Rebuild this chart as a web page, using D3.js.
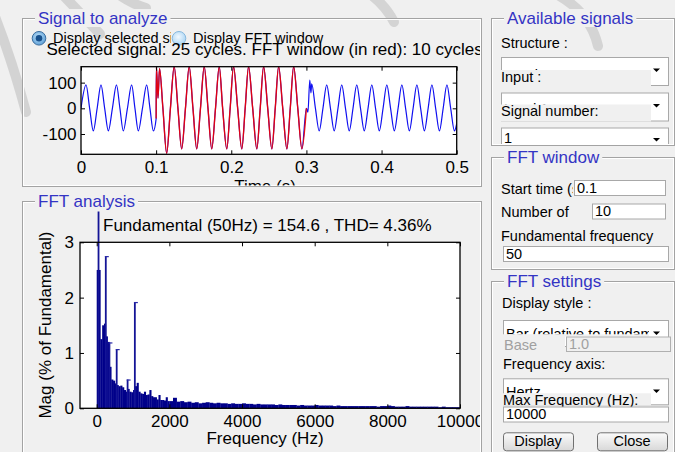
<!DOCTYPE html>
<html><head><meta charset="utf-8">
<script src="https://cdn.jsdelivr.net/npm/d3@7"></script>
<style>
html,body{margin:0;padding:0;background:#f0f0f0;}
svg{display:block;font-family:"Liberation Sans",Arial,Helvetica,sans-serif;}
</style></head><body>
<svg id="c" width="675" height="452"></svg>
<script>
// ---------------- DATA ----------------
const timeTicks = [0, 0.1, 0.2, 0.3, 0.4, 0.5];
const sigTicks = [-100, 0, 100];
const sigT = [0,0.0067,0.0115,0.0164,0.0215,0.0266,0.0315,0.0364,0.0418,0.0472,0.0518,0.0563,0.0618,0.0674,0.0718,0.0763,0.0818,0.0874,0.0918,0.0963,
  0.1,0.1003,0.1025,0.1045,0.109,0.114,0.119,0.124,0.129,0.134,0.139,0.144,0.149,0.154,0.159,0.164,0.169,0.174,0.179,0.184,0.1885,0.194,0.1985,0.203,0.2085,0.214,0.2185,0.223,0.2285,0.234,0.2385,0.243,0.2485,0.254,0.2585,0.263,0.2685,0.274,0.2785,0.283,0.2885,0.294,0.3,
  0.302,0.3045,0.306,0.307,0.312,0.317,0.322,0.327,0.332,0.337,0.342,0.347,0.352,0.357,0.362,0.367,0.372,0.377,0.382,0.387,0.392,0.397,0.402,0.407,0.412,0.417,0.422,0.427,0.432,0.437,0.442,0.447,0.452,0.457,0.462,0.467,0.472,0.477,0.482,0.487,0.492,0.497,0.5];
const sigV = [0,91,0,-88,0,91,0,-88,0,91,0,-88,0,91,0,-88,0,91,0,-88,
  -40,160,40,155,0,-175,0,162,0,-158,0,162,0,-158,0,162,0,-158,0,162,0,-158,0,162,0,-158,0,162,0,-158,0,162,0,-158,0,162,0,-158,0,162,0,-158,0,
  -15,110,60,95,0,-88,0,91,0,-88,0,91,0,-88,0,91,0,-88,0,91,0,-88,0,91,0,-88,0,91,0,-88,0,91,0,-88,0,91,0,-88,0,91,0,-88,-60];
const windowStart = 0.1, windowEnd = 0.3;

const freqTicks = [0, 2000, 4000, 6000, 8000, 10000];
const magTicks = [0, 1, 2, 3];
const fftFreq = [0,50,100,150,200,250,300,350,400,450,500,550,600,650,700,750,800,850,900,950,1000,1050,1100,1150,1200,1250,1300,1350,1400,1450,1500,1550,1600,1650,1700,1750,1800,1850,1900,1950,
  2000,2100,2200,2300,2400,2500,2600,2700,2800,2900,3000,3100,3200,3300,3400,3500,3600,3700,3800,3900,4000,4100,4200,4300,4400,4500,4600,4700,4800,4900,
  5000,5100,5200,5300,5400,5500,5600,5700,5800,5900,6000,6100,6200,6300,6400,6500,6600,6700,6800,6900,7000,7100,7200,7300,7400,7500,7600,7700,7800,7900,
  8000,8100,8200,8300,8400,8500,8600,8700,8800,8900,9000,9100,9200,9300,9400,9500,9600,9700,9800,9900];
const fftMag = [2.5,2.5,1.25,1.5,1.53,1.3,1.2,0.75,0.52,0.5,0.45,0.42,0.4,0.41,0.38,0.33,0.3,0.35,0.3,0.29,0.33,0.4,0.46,0.3,0.27,0.26,0.3,0.24,0.25,0.33,0.22,0.2,0.2,0.16,0.24,0.15,0.15,0.14,0.2,0.13,
  0.13,0.19,0.12,0.13,0.11,0.12,0.1,0.11,0.09,0.1,0.11,0.1,0.09,0.1,0.09,0.09,0.08,0.09,0.08,0.08,0.09,0.08,0.08,0.07,0.08,0.07,0.07,0.07,0.07,0.06,
  0.07,0.06,0.06,0.06,0.06,0.05,0.06,0.05,0.05,0.05,0.06,0.05,0.05,0.05,0.05,0.04,0.05,0.04,0.04,0.04,0.04,0.04,0.04,0.04,0.04,0.04,0.04,0.03,0.04,0.04,
  0.05,0.04,0.03,0.03,0.03,0.04,0.03,0.03,0.03,0.03,0.03,0.03,0.03,0.03,0.02,0.03,0.02,0.02,0.02,0.02];
const spikeFreq = [50, 250, 350, 550, 850, 1050];
const spikeMag = [100, 2.75, 1.19, 1.07, 0.52, 1.92];

// ---------------- DRAW ----------------
const svg = d3.select('#c');
const defs = svg.append('defs');
const BLUE_T = '#3434c4';
const FONT_AX = 17, FONT_UI = 14.5;
let clipN = 0;
function clip(x, y, w, h){ const id = 'cp' + (clipN++); defs.append('clipPath').attr('id', id).append('rect').attr('x', x).attr('y', y).attr('width', w).attr('height', h); return `url(#${id})`; }

// gradients
const g1 = defs.append('radialGradient').attr('id','radSel').attr('cx','45%').attr('cy','40%').attr('r','60%');
g1.append('stop').attr('offset','0%').attr('stop-color','#bfe3fb');
g1.append('stop').attr('offset','100%').attr('stop-color','#5e9fd6');
const g2 = defs.append('radialGradient').attr('id','radUn').attr('cx','45%').attr('cy','40%').attr('r','60%');
g2.append('stop').attr('offset','0%').attr('stop-color','#f2f9ff');
g2.append('stop').attr('offset','100%').attr('stop-color','#a9d4f3');
const g3 = defs.append('linearGradient').attr('id','btn').attr('x1',0).attr('x2',0).attr('y1',0).attr('y2',1);
g3.append('stop').attr('offset','0%').attr('stop-color','#fbfbfb');
g3.append('stop').attr('offset','100%').attr('stop-color','#d8d8d8');

// background
svg.append('rect').attr('width',675).attr('height',452).attr('fill','#f0f0f0');

// faint watermark strokes
const wm = svg.append('g').attr('fill','none').attr('stroke','#cdcdcd').attr('stroke-width',10).attr('stroke-linecap','round').attr('opacity',0.8);
wm.append('path').attr('d','M-6,14 Q12,60 26,112');
wm.append('path').attr('d','M62,-6 L100,34');
wm.append('path').attr('d','M118,-6 Q132,4 146,8');
wm.append('path').attr('d','M370,-6 Q386,6 394,22');
wm.append('path').attr('d','M556,-6 Q590,12 598,46');

function panel(x, y, w, h, title){
  const g = svg.append('g');
  g.append('rect').attr('x', x+0.5).attr('y', y+0.5).attr('width', w).attr('height', h).attr('fill','none').attr('stroke','#a3a3a3');
  g.append('rect').attr('x', x+1.5).attr('y', y+1.5).attr('width', w-2).attr('height', h-2).attr('fill','none').attr('stroke','#ffffff');
  const t = g.append('text').attr('x', x+16).attr('y', y+6).attr('font-size', FONT_AX).attr('fill', BLUE_T).text(title);
  const tw = t.node().getComputedTextLength();
  g.insert('rect','text').attr('x', x+13).attr('y', y-9).attr('width', tw+6).attr('height', 18).attr('fill','#f0f0f0');
  return g;
}

// ===== Panel: Signal to analyze =====
panel(22, 18, 459, 168, 'Signal to analyze');
const p1 = svg.append('g').attr('clip-path', clip(23, 28, 457, 157.5));

// radio buttons
p1.append('g').attr('clip-path', clip(50, 28, 121, 20)).append('text').attr('x',53).attr('y',43).attr('font-size',FONT_UI).text('Display selected signal');
p1.append('text').attr('x',193).attr('y',43).attr('font-size',FONT_UI).text('Display FFT window');
p1.append('circle').attr('cx',39).attr('cy',38.3).attr('r',6.8).attr('fill','url(#radSel)').attr('stroke','#3a6d9e');
p1.append('circle').attr('cx',39).attr('cy',38.3).attr('r',3.3).attr('fill','#17508c');
p1.append('circle').attr('cx',179).attr('cy',38.3).attr('r',6.8).attr('fill','url(#radUn)').attr('stroke','#86b8df');

p1.append('text').attr('x',46.5).attr('y',54.5).attr('font-size',FONT_AX).text('Selected signal: 25 cycles. FFT window (in red): 10 cycles');

// time axes
const tx = d3.scaleLinear().domain([0,0.5]).range([81,456.7]);
const ty = d3.scaleLinear().domain([-179,162]).range([154.3,66.7]);
p1.append('rect').attr('x',81).attr('y',66.7).attr('width',375.7).attr('height',87.6).attr('fill','#fff');
const sigPts = sigT.map((t,i)=>[t, sigV[i]]);
const line = d3.line().x(d=>tx(d[0])).y(d=>ty(d[1])).curve(d3.curveMonotoneX);
const pc = p1.append('g').attr('clip-path', clip(81, 66.7, 375.7, 87.6));
pc.append('path').attr('d', line(sigPts)).attr('fill','none').attr('stroke','#1010f0').attr('stroke-width',1.2);
pc.append('path').attr('d', line(sigPts.filter(d=>d[0]>=windowStart && d[0]<=windowEnd))).attr('fill','none').attr('stroke','#f00000').attr('stroke-width',1.4).attr('opacity',0.92);

function styleAxis(sel){ sel.select('.domain').remove(); sel.selectAll('line').attr('stroke','#000'); sel.selectAll('text').attr('font-size',FONT_AX).attr('fill','#000').attr('font-family','"Liberation Sans",Arial,sans-serif'); }
const fmtT = d=>String(d);
p1.append('g').attr('transform','translate(0,154.3)').call(d3.axisBottom(tx).tickValues(timeTicks).tickFormat(fmtT).tickSize(-4).tickPadding(6.7)).call(styleAxis);
p1.append('g').attr('transform','translate(0,66.7)').call(d3.axisTop(tx).tickValues(timeTicks).tickFormat('').tickSize(-4)).call(styleAxis);
p1.append('g').attr('transform','translate(81,0)').call(d3.axisLeft(ty).tickValues(sigTicks).tickFormat(fmtT).tickSize(-4).tickPadding(4.5)).call(styleAxis);
p1.append('g').attr('transform','translate(456.7,0)').call(d3.axisRight(ty).tickValues(sigTicks).tickFormat('').tickSize(-4)).call(styleAxis);
p1.append('rect').attr('x',81).attr('y',66.7).attr('width',375.7).attr('height',87.6).attr('fill','none').attr('stroke','#000').attr('stroke-width',1.3);
p1.append('text').attr('x',265).attr('y',192).attr('text-anchor','middle').attr('font-size',FONT_AX).text('Time (s)');

// ===== Panel: FFT analysis =====
panel(22, 201, 459, 270, 'FFT analysis');
const p2 = svg.append('g').attr('clip-path', clip(23, 211, 457, 241));
const fx = d3.scaleLinear().domain([-460,10000]).range([80,460]);
const fy = d3.scaleLinear().domain([0,3]).range([408.3,242.3]);
p2.append('rect').attr('x',80).attr('y',242.3).attr('width',380).attr('height',166).attr('fill','#fff');
p2.append('text').attr('x',103).attr('y',231).attr('font-size',FONT_AX).text('Fundamental (50Hz) = 154.6 , THD= 4.36%');
const bars = p2.append('g').attr('clip-path', clip(80, 211.5, 380, 197.5));
bars.selectAll('rect.b').data(fftFreq).join('rect').attr('class','b')
  .attr('x', (f)=>fx(f))
  .attr('width', (f,i)=>Math.max(1, fx(i<fftFreq.length-1?fftFreq[i+1]:f+100)-fx(f)+0.3))
  .attr('y', (f,i)=>fy(fftMag[i]))
  .attr('height', (f,i)=>fy(0)-fy(fftMag[i]))
  .attr('fill','#00008a');
bars.selectAll('line.s').data(spikeFreq).join('line').attr('class','s')
  .attr('x1', f=>fx(f)).attr('x2', f=>fx(f))
  .attr('y1', fy(0)).attr('y2', (f,i)=>fy(spikeMag[i]))
  .attr('stroke','#141496').attr('stroke-width',1.8);
bars.selectAll('line.c').data(spikeFreq).join('line').attr('class','c')
  .attr('x1', f=>fx(f)-0.9).attr('x2', f=>fx(f)+3)
  .attr('y1', (f,i)=>fy(spikeMag[i])+0.5).attr('y2', (f,i)=>fy(spikeMag[i])+0.5)
  .attr('stroke','#2a2aa8').attr('stroke-width',1.2);

p2.append('g').attr('transform','translate(0,408.3)').call(d3.axisBottom(fx).tickValues(freqTicks).tickFormat(fmtT).tickSize(-4).tickPadding(6.7)).call(styleAxis);
p2.append('g').attr('transform','translate(0,242.3)').call(d3.axisTop(fx).tickValues(freqTicks).tickFormat('').tickSize(-4)).call(styleAxis);
p2.append('g').attr('transform','translate(80,0)').call(d3.axisLeft(fy).tickValues(magTicks).tickFormat(fmtT).tickSize(-4).tickPadding(6)).call(styleAxis);
p2.append('g').attr('transform','translate(460,0)').call(d3.axisRight(fy).tickValues(magTicks).tickFormat('').tickSize(-4)).call(styleAxis);
p2.append('rect').attr('x',80).attr('y',242.3).attr('width',380).attr('height',166).attr('fill','none').attr('stroke','#000').attr('stroke-width',1.3);
p2.append('text').attr('x',265).attr('y',444).attr('text-anchor','middle').attr('font-size',FONT_AX).text('Frequency (Hz)');
p2.append('text').attr('transform','translate(51,325) rotate(-90)').attr('text-anchor','middle').attr('font-size',FONT_AX).text('Mag (% of Fundamental)');

// ===== UI helpers =====
function label(g, x, y, s, col, maxW){
  const host = maxW ? g.append('g').attr('clip-path', clip(x-2, y-14, maxW, 19)) : g;
  host.append('text').attr('x',x).attr('y',y).attr('font-size',FONT_UI).attr('fill',col||'#000').text(s);
}
function edit(g, x, y, w, h, s, disabled){
  g.append('rect').attr('x',x+0.5).attr('y',y+0.5).attr('width',w).attr('height',h).attr('fill',disabled?'#f0f0f0':'#fff').attr('stroke',disabled?'#b0b0b0':'#a8a8a8');
  if(s!=null) g.append('text').attr('x',x+3).attr('y',y+h-2.5).attr('font-size',FONT_UI).attr('fill',disabled?'#a0a0a0':'#000').text(s);
}
function popup(g, x, y, w, h, s, textY, arrowY, visH){
  g.append('rect').attr('x',x+0.5).attr('y',y+0.5).attr('width',w).attr('height',h).attr('fill','#fff').attr('stroke','#a8a8a8');
  g.append('g').attr('clip-path', clip(x+1, y+1, w-20, visH)).append('text').attr('x',x+3).attr('y',textY).attr('font-size',FONT_UI).text(s);
  g.append('path').attr('d',`M${x+w-15},${arrowY} h7 l-3.5,3.5 z`).attr('fill','#000');
}
function cover(g, x, y, w, h){ g.append('rect').attr('x',x).attr('y',y).attr('width',w).attr('height',h).attr('fill','#f0f0f0'); }
function button(g, x, y, w, h, s){
  g.append('rect').attr('x',x+0.5).attr('y',y+0.5).attr('width',w).attr('height',h).attr('rx',3).attr('fill','url(#btn)').attr('stroke','#707070');
  g.append('text').attr('x',x+w/2).attr('y',y+h-4).attr('text-anchor','middle').attr('font-size',FONT_UI).text(s);
}

// ===== Panel: Available signals =====
panel(491, 18, 183, 127, 'Available signals');
const p3 = svg.append('g').attr('clip-path', clip(492, 28, 181, 116));
label(p3, 501, 48, 'Structure :');
popup(p3, 501, 57, 167, 28, 'Continuous', 80, 68.5, 12);
cover(p3, 499, 70, 152, 17);
label(p3, 501, 82, 'Input :');
popup(p3, 501, 92.5, 167, 28, 'Load 1', 114, 104, 11);
cover(p3, 499, 104.5, 152, 17);
label(p3, 501, 116, 'Signal number:');
popup(p3, 501, 127.5, 167, 24, '1', 143, 138, 16);

// ===== Panel: FFT window =====
panel(491, 157, 183, 112, 'FFT window');
const p4 = svg.append('g').attr('clip-path', clip(492, 167, 181, 101));
label(p4, 501, 194, 'Start time (s):', null, 74);
edit(p4, 574, 180, 91, 15, '0.1');
label(p4, 501, 217, 'Number of');
edit(p4, 592, 203.5, 73, 15, '10');
label(p4, 501, 241, 'Fundamental frequency');
edit(p4, 503, 246, 165, 15, '50');

// ===== Panel: FFT settings =====
panel(491, 281, 183, 200, 'FFT settings');
const p5 = svg.append('g').attr('clip-path', clip(492, 291, 181, 161));
label(p5, 502, 307.5, 'Display style :');
popup(p5, 503, 320, 165, 26, 'Bar (relative to fundamental)', 338.5, 331.5, 13.5);
cover(p5, 499, 334.5, 66, 19);
cover(p5, 499, 334.5, 150, 2);
label(p5, 504, 350, 'Base', '#a0a0a0');
edit(p5, 566, 336.5, 104, 14.5, '1.0', true);
label(p5, 503, 369, 'Frequency axis:');
popup(p5, 503, 378.3, 165, 26, 'Hertz', 397, 389.5, 14);
cover(p5, 499, 393.3, 152, 12);
label(p5, 503, 404.5, 'Max Frequency (Hz):');
edit(p5, 503, 406.5, 165, 15, '10000');
button(p5, 503, 432.3, 70, 18, 'Display');
button(p5, 597, 432.3, 70, 18, 'Close');
</script>
</body></html>
